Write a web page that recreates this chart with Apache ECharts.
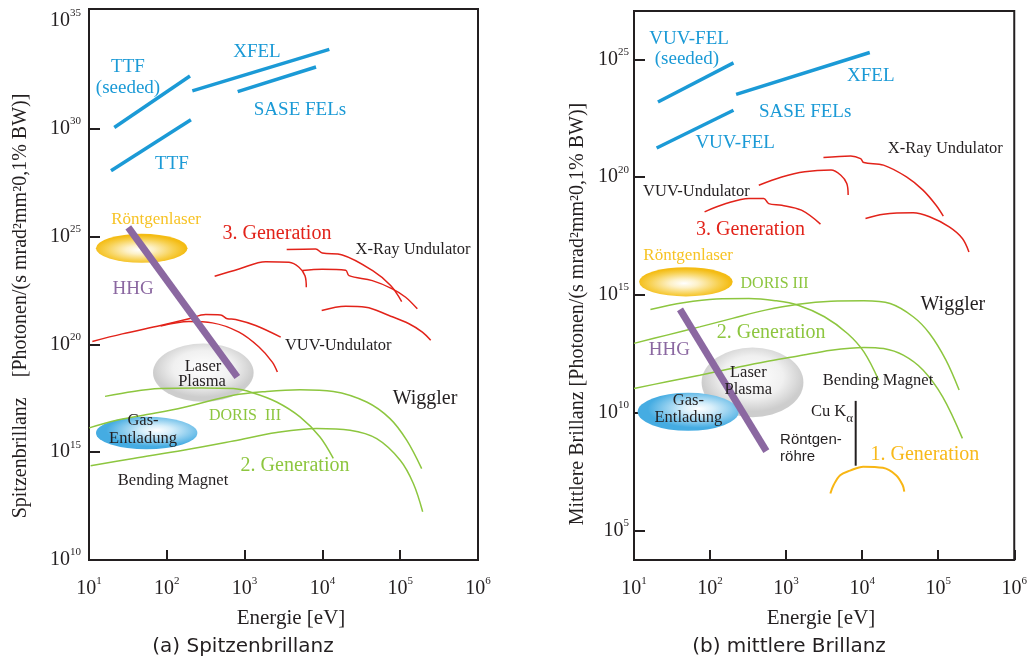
<!DOCTYPE html>
<html><head><meta charset="utf-8">
<script src="https://cdn.jsdelivr.net/npm/echarts@6/dist/echarts.min.js"></script>
<style>html,body{margin:0;padding:0;background:#fff}#c{width:1030px;height:662px}</style>
</head><body><div id="c"></div>
<script>
// ---------- tick exponents (labels are 10^n) ----------
const xTicks = [1, 2, 3, 4, 5, 6];
const yTicksA = [10, 15, 20, 25, 30, 35];
const yTickMarksA = [15, 20, 25, 30];
const yTicksB = [5, 10, 15, 20, 25];

// ---------- panel (a) Spitzenbrillanz : [log10 E/eV, log10 brilliance] ----------
const a_ttfSeeded = [[1.325, 30.06], [2.298, 32.45]];
const a_ttf = [[1.283, 28.06], [2.31, 30.42]];
const a_xfel = [[2.328, 31.76], [4.089, 33.69]];
const a_sase = [[2.911, 31.73], [3.918, 32.87]];
const a_hhg = [[1.505, 25.43], [2.906, 18.49]];
const a_xray1 = [[3.541,24.40],[3.913,24.43],[3.999,24.24],[4.256,24.15],[4.642,23.43],[4.877,22.73],[5.019,21.99]];
const a_und = [[2.615,23.16],[2.928,23.50],[3.271,23.84],[3.571,23.81],[3.699,23.58],[3.776,23.19],[3.793,22.65]];
const a_xray2 = [[3.742,23.43],[3.999,23.49],[4.299,23.44],[4.342,23.19],[4.642,22.96],[4.899,22.58],[5.070,22.19],[5.220,21.65]];
const a_xray3 = [[3.991,21.57],[4.299,21.77],[4.556,21.73],[4.856,21.34],[5.113,20.96],[5.285,20.57],[5.392,20.19]];
const a_vuv1 = [[1.043,20.14],[1.428,20.49],[1.921,20.88],[2.285,21.19],[2.500,21.39],[2.692,21.37],[2.778,21.19],[2.885,21.16],[3.142,20.88],[3.464,20.34]];
const a_vuv2 = [[1.921,20.85],[2.285,21.06],[2.585,21.00],[2.928,20.57],[3.185,19.88],[3.356,19.18],[3.421,18.72]];
const a_doris = [[1.206,17.59],[1.570,17.82],[1.913,17.95],[2.427,17.98],[2.855,17.95],[3.112,17.75],[3.412,17.33],[3.712,16.64],[3.969,15.71],[4.140,14.71]];
const a_wiggler = [[1.004,16.13],[1.356,16.48],[1.698,16.71],[2.212,17.07],[2.855,17.64],[3.284,17.82],[3.712,17.90],[4.141,17.82],[4.569,17.33],[4.869,16.56],[5.083,15.56],[5.276,14.24]];
const a_bending = [[1.021,14.37],[1.570,14.71],[2.212,15.09],[2.855,15.52],[3.412,15.91],[3.926,16.10],[4.355,16.02],[4.698,15.63],[5.0,14.63],[5.169,13.55],[5.289,12.24]];
// source regions: [E from, E to, B from, B to, kind]  kind 0 Röntgenlaser, 1 Laser-Plasma, 2 Gasentladung
const a_regions = [[1.089,2.266,23.79,25.13,0],[1.823,3.116,17.34,20.04,1],[1.090,2.393,15.14,16.65,2]];

// ---------- panel (b) mittlere Brillanz ----------
const b_vuvSeeded = [[1.315, 23.19], [2.308, 24.85]];
const b_vuvFel = [[1.298, 21.24], [2.308, 22.84]];
const b_xfel = [[2.343, 23.51], [4.100, 25.29]];
const b_hhg = [[1.605, 14.39], [2.740, 8.38]];
const b_xray1 = [[3.491,20.83],[3.850,20.90],[3.979,20.79],[4.022,20.62],[4.281,20.51],[4.583,20.01],[4.800,19.45],[4.972,18.81],[5.067,18.35]];
const b_und = [[2.641,19.66],[2.943,20.01],[3.245,20.23],[3.591,20.30],[3.720,20.08],[3.798,19.73],[3.816,19.24]];
const b_xray2 = [[4.044,18.25],[4.281,18.43],[4.670,18.49],[4.886,18.32],[5.145,17.89],[5.318,17.40],[5.404,16.83]];
const b_vuv = [[1.928,18.53],[2.209,18.88],[2.511,19.10],[2.706,19.10],[2.771,18.88],[2.943,18.81],[3.202,18.60],[3.452,18.01]];
const b_doris = [[1.216,14.39],[1.648,14.67],[2.079,14.83],[2.511,14.85],[2.857,14.76],[3.159,14.57],[3.504,14.08],[3.807,13.37],[4.023,12.59],[4.217,11.39]];
const b_wiggler = [[1.0,12.95],[1.432,13.30],[1.864,13.65],[2.295,14.01],[2.727,14.36],[3.159,14.61],[3.591,14.74],[4.023,14.76],[4.368,14.64],[4.671,14.08],[4.886,13.37],[5.102,12.24],[5.275,10.97]];
const b_bending = [[1.0,11.04],[1.432,11.32],[1.864,11.60],[2.295,11.89],[2.727,12.17],[3.159,12.41],[3.591,12.66],[4.023,12.78],[4.282,12.73],[4.541,12.45],[4.800,11.82],[5.059,10.68],[5.318,8.92]];
const b_cuKa = [[3.915, 10.51], [3.915, 7.76]];
const b_tube = [[3.582,6.58],[3.625,6.94],[3.711,7.36],[3.841,7.55],[4.014,7.72],[4.273,7.67],[4.446,7.36],[4.532,6.94],[4.554,6.66]];
const b_regions = [[1.067,2.298,14.94,16.18,0],[1.889,3.228,9.82,12.77,1],[1.048,2.377,9.24,10.85,2]];

// ---------- annotation texts (anchored in data coordinates) ----------
const a_labels = [
  [1.501,32.87,'TTF','blue'],[1.501,31.90,'(seeded)','blue'],[3.159,33.56,'XFEL','blue'],
  [3.712,30.88,'SASE FELs','blue'],[2.067,28.38,'TTF','blue'],
  [1.861,25.79,'Röntgenlaser','yellow'],[3.416,25.14,'3. Generation','red'],
  [5.165,24.40,'X-Ray Undulator','dark'],[1.566,22.55,'HHG','purple'],
  [4.204,19.95,'VUV-Undulator','dark'],[2.465,18.98,'Laser','dark'],[2.452,18.29,'Plasma','dark'],
  [5.319,17.49,'Wiggler','big'],[3.005,16.71,'DORIS  III','greenSm'],
  [1.694,16.48,'Gas-','dark'],[1.694,15.63,'Entladung','dark'],
  [3.648,14.35,'2. Generation','green'],[2.080,13.70,'Bending Magnet','dark']
];
const b_labels = [
  [1.725,25.85,'VUV-FEL','blue'],[1.696,25.00,'(seeded)','blue'],[4.113,24.28,'XFEL','blue'],
  [3.250,22.77,'SASE FELs','blue'],[2.330,21.43,'VUV-FEL','blue'],
  [5.093,21.22,'X-Ray Undulator','dark'],[1.820,19.38,'VUV-Undulator','dark'],
  [2.532,17.75,'3. Generation','red'],[1.712,16.66,'Röntgenlaser','yellow'],
  [2.848,15.46,'DORIS III','greenSm'],[5.193,14.57,'Wiggler','big'],
  [2.804,13.41,'2. Generation','green'],[1.466,12.66,'HHG','purple'],
  [2.503,11.72,'Laser','dark'],[2.503,11.00,'Plasma','dark'],
  [4.209,11.35,'Bending Magnet','dark'],[1.716,10.54,'Gas-','dark'],[1.716,9.81,'Entladung','dark'],
  [3.604,10.05,'Cu K{s|α}','dark'],[2.921,8.85,'Röntgen-','sans'],[2.921,8.14,'röhre','sans'],
  [4.825,8.24,'1. Generation','yellowBig']
];

// ---------- styles ----------
const SERIF = 'Liberation Serif';
const INK = '#231f20';
const C = {blue:'#1b9ad6', red:'#e2231a', green:'#8dc63f', purple:'#8b68a1', tube:'#f8b614'};
const textStyles = {
  blue:{c:C.blue, fs:19}, red:{c:C.red, fs:20}, green:{c:C.green, fs:20}, greenSm:{c:C.green, fs:16},
  dark:{c:INK, fs:16.5}, big:{c:INK, fs:20}, purple:{c:C.purple, fs:19},
  yellow:{c:'#f7c325', fs:17}, yellowBig:{c:'#f8b91a', fs:20},
  sans:{c:INK, fs:15, ff:'Liberation Sans', align:'left'}
};
const fills = [
  () => new echarts.graphic.RadialGradient(0.48, 0.55, 0.5, [{offset:0,color:'#ffffff'},{offset:0.3,color:'#fdf1c8'},{offset:0.75,color:'#f7cf4c'},{offset:1,color:'#f4bc14'}]),
  () => new echarts.graphic.RadialGradient(0.5, 0.42, 0.5, [{offset:0,color:'#ffffff'},{offset:0.6,color:'#f0f0f0'},{offset:1,color:'#cdcdcd'}]),
  () => new echarts.graphic.RadialGradient(0.6, 0.42, 0.5, [{offset:0,color:'#ffffff'},{offset:0.3,color:'#d6eefa'},{offset:1,color:'#45ace2'}])
];

function line(data, color, width, gi, z) {
  return {type:'line', xAxisIndex:gi, yAxisIndex:gi, data, smooth:0.35, symbol:'none',
    lineStyle:{color, width, cap:'butt'}, z:z||3, silent:true, animation:false};
}
function regions(data, gi) {
  return {type:'custom', xAxisIndex:gi, yAxisIndex:gi, z:1, silent:true, animation:false,
    encode:{x:[0,1], y:[2,3]}, data,
    renderItem:(params, api) => {
      const p0 = api.coord([api.value(0), api.value(2)]);
      const p1 = api.coord([api.value(1), api.value(3)]);
      const cx = (p0[0]+p1[0])/2, cy = (p0[1]+p1[1])/2;
      const rx = Math.abs(p1[0]-p0[0])/2, ry = Math.abs(p1[1]-p0[1])/2;
      return {type:'circle', x:cx, y:cy, scaleX:rx/ry, shape:{cx:0, cy:0, r:ry},
        style:{fill:fills[api.value(4)](), stroke:null}};
    }};
}
function texts(list, gi) {
  return {type:'custom', xAxisIndex:gi, yAxisIndex:gi, z:6, silent:true, animation:false,
    data:list.map(t => [t[0], t[1]]),
    renderItem:(params, api) => {
      const t = list[params.dataIndex];
      const s = textStyles[t[3]];
      const p = api.coord([t[0], t[1]]);
      return {type:'text', x:p[0], y:p[1], style:{
        text:t[2], fill:s.c, fontSize:s.fs, fontFamily:s.ff||SERIF,
        align:s.align||'center', verticalAlign:'middle', lineHeight:26,
        rich:{s:{fontSize:13, fontFamily:SERIF, fill:s.c, lineHeight:14, verticalAlign:'bottom'}}
      }};
    }};
}

const labelRich = {
  b:{fontSize:20, fontFamily:SERIF, color:INK, lineHeight:26},
  s:{fontSize:11, fontFamily:SERIF, color:INK, lineHeight:12, verticalAlign:'top'}
};
const pow = v => '{b|10}{s|' + Math.round(v) + '}';
function xAxis(gi) {
  return {type:'value', gridIndex:gi, min:1, max:6, interval:1,
    axisLine:{show:false}, splitLine:{show:false},
    axisTick:{inside:true, length:10, lineStyle:{color:INK, width:2}, customValues:xTicks},
    axisLabel:{customValues:xTicks, formatter:pow, rich:labelRich, margin:16}};
}
function yAxis(gi, min, max, labels, marks, margin) {
  return {type:'value', gridIndex:gi, min, max,
    axisLine:{show:false}, splitLine:{show:false},
    axisTick:{inside:true, length:11, lineStyle:{color:INK, width:2}, customValues:marks},
    axisLabel:{customValues:labels, formatter:pow, rich:labelRich, margin}};
}

const chart = echarts.init(document.getElementById('c'), null, {renderer:'canvas'});
chart.setOption({
  animation:false,
  backgroundColor:'#fff',
  grid:[
    {left:89, top:9, width:389, height:551, show:true, borderColor:INK, borderWidth:2, backgroundColor:'transparent'},
    {left:634, top:11, width:386, height:549, show:true, borderColor:INK, borderWidth:2, backgroundColor:'transparent'}
  ],
  xAxis:[xAxis(0), xAxis(1)],
  yAxis:[yAxis(0, 10, 35.56, yTicksA, yTickMarksA, 8), yAxis(1, 3.76, 27.05, yTicksB, yTicksB, 5)],
  series:[
    regions(a_regions, 0),
    line(a_ttfSeeded, C.blue, 3.5, 0), line(a_ttf, C.blue, 3.5, 0), line(a_xfel, C.blue, 3.5, 0), line(a_sase, C.blue, 3.5, 0),
    line(a_xray1, C.red, 1.5, 0), line(a_und, C.red, 1.5, 0), line(a_xray2, C.red, 1.5, 0), line(a_xray3, C.red, 1.5, 0),
    line(a_vuv1, C.red, 1.5, 0), line(a_vuv2, C.red, 1.5, 0),
    line(a_doris, C.green, 1.5, 0), line(a_wiggler, C.green, 1.5, 0), line(a_bending, C.green, 1.5, 0),
    line(a_hhg, C.purple, 7, 0, 4),
    texts(a_labels, 0),

    regions(b_regions, 1),
    line(b_vuvSeeded, C.blue, 3.5, 1), line(b_vuvFel, C.blue, 3.5, 1), line(b_xfel, C.blue, 3.5, 1),
    line(b_xray1, C.red, 1.5, 1), line(b_und, C.red, 1.5, 1), line(b_xray2, C.red, 1.5, 1), line(b_vuv, C.red, 1.5, 1),
    line(b_doris, C.green, 1.5, 1), line(b_wiggler, C.green, 1.5, 1), line(b_bending, C.green, 1.5, 1),
    line(b_cuKa, INK, 2, 1), line(b_tube, C.tube, 2, 1),
    line(b_hhg, C.purple, 7, 1, 4),
    texts(b_labels, 1)
  ],
  graphic:[
    {type:'text', x:21, y:306, rotation:Math.PI/2, style:{text:'Spitzenbrillanz    [Photonen/(s mrad²mm²0,1% BW)]', fontSize:20, fontFamily:SERIF, fill:INK, align:'center', verticalAlign:'middle'}},
    {type:'text', x:578, y:314, rotation:Math.PI/2, style:{text:'Mittlere Brillanz [Photonen/(s mrad²mm²0,1% BW)]', fontSize:20, fontFamily:SERIF, fill:INK, align:'center', verticalAlign:'middle'}},
    {type:'text', x:291, y:618, style:{text:'Energie [eV]', fontSize:21, fontFamily:SERIF, fill:INK, align:'center', verticalAlign:'middle'}},
    {type:'text', x:821, y:618, style:{text:'Energie [eV]', fontSize:21, fontFamily:SERIF, fill:INK, align:'center', verticalAlign:'middle'}},
    {type:'text', x:243, y:647, style:{text:'(a) Spitzenbrillanz', fontSize:20, fontFamily:'DejaVu Sans', fill:INK, align:'center', verticalAlign:'middle'}},
    {type:'text', x:789, y:647, style:{text:'(b) mittlere Brillanz', fontSize:20, fontFamily:'DejaVu Sans', fill:INK, align:'center', verticalAlign:'middle'}}
  ]
});
</script></body></html>
